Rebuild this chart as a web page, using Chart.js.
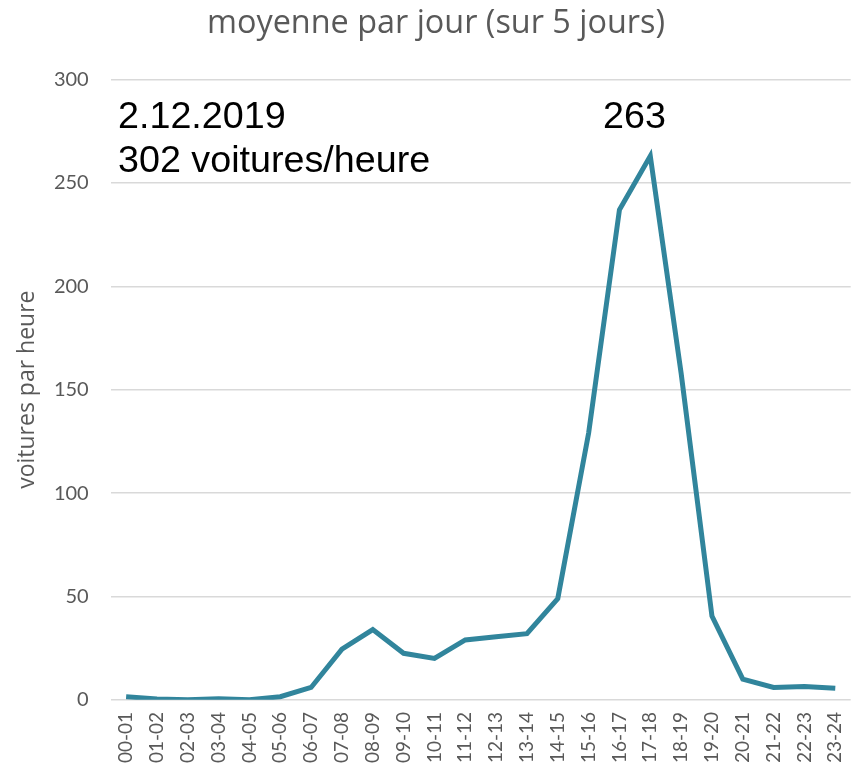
<!DOCTYPE html>
<html>
<head>
<meta charset="utf-8">
<script src="https://cdn.jsdelivr.net/npm/chart.js@4/dist/chart.umd.min.js"></script>
<style>
  html, body { margin: 0; padding: 0; background: #fff; }
  #wrap { width: 856px; height: 773px; }
</style>
</head>
<body>
<div id="wrap"><canvas id="trafficChart"></canvas></div>
<script>
// === data ===
const hours = ['00-01','01-02','02-03','03-04','04-05','05-06','06-07','07-08','08-09','09-10','10-11','11-12',
               '12-13','13-14','14-15','15-16','16-17','17-18','18-19','19-20','20-21','21-22','22-23','23-24'];
const carsPerHour = [1.5, 0.4, 0.1, 0.5, 0, 1.5, 6, 24.5, 34, 22.5, 20, 29,
                     30.5, 32, 49, 129, 237, 263, 158, 40.5, 10, 6, 6.5, 5.6];
const yTicks = [0, 50, 100, 150, 200, 250, 300];
const chartTitle = 'moyenne par jour (sur 5 jours)';
const notes = ['2.12.2019', '302 voitures/heure'];
const peakLabel = '263';

const grey = '#595959';

// title + text boxes drawn on the canvas
const notesPlugin = {
  id: 'notes',
  afterDraw(chart) {
    const c = chart.ctx;
    c.save();
    c.textBaseline = 'alphabetic';
    c.fillStyle = grey;
    c.font = '32.4px "Open Sans", sans-serif';
    c.textAlign = 'center';
    c.fillText(chartTitle, 436, 33);

    c.fillStyle = '#000';
    c.font = '37.7px "Liberation Sans", Arial, sans-serif';
    c.textAlign = 'left';
    c.fillText(notes[0], 118, 128);
    c.fillText(notes[1], 118, 172);
    c.fillText(peakLabel, 603, 128);
    c.restore();
  }
};

const ctx = document.getElementById('trafficChart');
if (ctx) {
  new Chart(ctx, {
    type: 'line',
    data: {
      labels: hours,
      datasets: [{
        data: carsPerHour,
        borderColor: '#31859c',
        borderWidth: 5,
        pointRadius: 0,
        tension: 0,
        fill: false
      }]
    },
    options: {
      responsive: true,
      maintainAspectRatio: false,
      animation: false,
      layout: { padding: { left: 4, right: 5.3, top: 79.5, bottom: 6 } },
      plugins: {
        legend: { display: false },
        tooltip: { enabled: false },
        title: { display: false }
      },
      scales: {
        x: {
          offset: true,
          afterFit(axis) { axis.paddingLeft = 0; axis.paddingRight = 0; },
          grid: { display: false },
          border: { display: false },
          ticks: {
            color: grey,
            font: { family: 'Lato', size: 19 },
            minRotation: 90,
            maxRotation: 90,
            autoSkip: false,
            padding: 4
          }
        },
        y: {
          min: 0,
          max: 300,
          afterBuildTicks(axis) { axis.ticks = yTicks.map(v => ({ value: v })); },
          afterFit(axis) { axis.width = 106.7; },
          grid: { color: '#d9d9d9', lineWidth: 1.5, drawTicks: false },
          border: { display: false },
          ticks: {
            color: grey,
            font: { family: 'Lato', size: 20 },
            padding: 22
          },
          title: {
            display: true,
            text: 'voitures par heure',
            color: grey,
            font: { family: 'Open Sans', size: 23 },
            padding: { top: 10, bottom: 0 }
          }
        }
      }
    },
    plugins: [notesPlugin]
  });
}
</script>
</body>
</html>
